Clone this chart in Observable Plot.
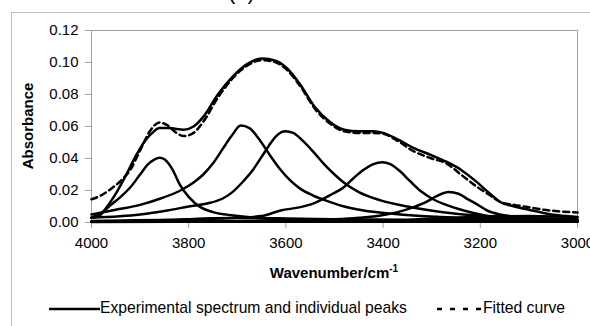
<!DOCTYPE html>
<html>
<head>
<meta charset="utf-8">
<script src="https://cdn.jsdelivr.net/npm/d3@7"></script>
<script src="https://cdn.jsdelivr.net/npm/@observablehq/plot@0.6"></script>
<style>
  html, body { margin:0; padding:0; background:#fff; }
  body { width:590px; height:326px; overflow:hidden; position:relative; font-family:"Liberation Sans", Arial, sans-serif; }
  #outer { position:absolute; left:11px; top:12px; width:700px; height:400px; border:1px solid #bdbdbd; box-sizing:border-box; }
  #title { position:absolute; left:228px; top:-21px; font-size:22px; color:#000; white-space:nowrap; }
  #chart { position:absolute; left:0; top:0; }
  #legend { position:absolute; left:0; top:298px; width:590px; height:20px; font-size:15.7px; color:#000; }
  #legend .item { position:absolute; top:0; display:flex; align-items:center; white-space:nowrap; }
</style>
</head>
<body>
<div id="outer"></div>
<div id="title">(a)</div>
<div id="chart"></div>
<div id="legend">
  <div class="item" style="left:49px;">
    <svg width="51" height="20"><line x1="0" x2="51" y1="11" y2="11" stroke="#000" stroke-width="2.5"/></svg>
    <span>Experimental spectrum and individual peaks</span>
  </div>
  <div class="item" style="left:437px;">
    <svg width="46" height="20"><line x1="0" x2="46" y1="11" y2="11" stroke="#000" stroke-width="2.5" stroke-dasharray="5,8"/></svg>
    <span>Fitted curve</span>
  </div>
</div>
<script>
// ---- Data ----
const xTicks = [4000, 3800, 3600, 3400, 3200, 3000];
const yTicks = [0, 0.02, 0.04, 0.06, 0.08, 0.10, 0.12];

const expW = [4000, 3985, 3970, 3950, 3930, 3910, 3890, 3875, 3860, 3840, 3810, 3790, 3770, 3740, 3710, 3680, 3650, 3620, 3600, 3570, 3540, 3510, 3480, 3450, 3420, 3400, 3370, 3340, 3300, 3270, 3240, 3210, 3180, 3160, 3130, 3100, 3070, 3040, 3000];
const expA = [0.003, 0.004, 0.009, 0.018, 0.029, 0.041, 0.051, 0.056, 0.059, 0.059, 0.058, 0.060, 0.066, 0.080, 0.091, 0.099, 0.1025, 0.101, 0.097, 0.086, 0.072, 0.063, 0.058, 0.057, 0.057, 0.056, 0.052, 0.047, 0.042, 0.038, 0.033, 0.026, 0.018, 0.013, 0.010, 0.008, 0.006, 0.0045, 0.0035];

const fitW = [4000, 3980, 3960, 3940, 3920, 3900, 3880, 3860, 3845, 3825, 3810, 3790, 3770, 3740, 3710, 3680, 3650, 3620, 3600, 3570, 3540, 3510, 3480, 3450, 3420, 3400, 3370, 3340, 3300, 3270, 3240, 3210, 3180, 3160, 3130, 3100, 3070, 3040, 3000];
const fitA = [0.0145, 0.017, 0.021, 0.026, 0.033, 0.045, 0.057, 0.0625, 0.061, 0.056, 0.054, 0.056, 0.063, 0.078, 0.090, 0.098, 0.1015, 0.100, 0.096, 0.085, 0.071, 0.062, 0.057, 0.056, 0.056, 0.0555, 0.051, 0.045, 0.040, 0.037, 0.030, 0.023, 0.017, 0.013, 0.011, 0.0095, 0.008, 0.007, 0.0062];

const peak1W = [4000, 3975, 3960, 3940, 3920, 3900, 3885, 3870, 3860, 3850, 3835, 3817, 3800, 3776, 3750, 3708, 3660, 3600, 3500, 3000];
const peak1A = [0.003, 0.007, 0.011, 0.016, 0.022, 0.030, 0.036, 0.0395, 0.0405, 0.0395, 0.034, 0.023, 0.016, 0.0096, 0.0065, 0.0044, 0.003, 0.0025, 0.002, 0.001];

const peak2W = [4000, 3950, 3900, 3858, 3817, 3790, 3770, 3750, 3730, 3712, 3693, 3675, 3655, 3635, 3611, 3590, 3570, 3545, 3520, 3480, 3440, 3380, 3337, 3250, 3150, 3000];
const peak2A = [0.005, 0.008, 0.011, 0.015, 0.020, 0.025, 0.030, 0.037, 0.046, 0.054, 0.0606, 0.059, 0.052, 0.043, 0.033, 0.026, 0.021, 0.017, 0.014, 0.010, 0.0075, 0.0055, 0.0044, 0.003, 0.002, 0.0015];

const peak3W = [4000, 3900, 3844, 3800, 3760, 3730, 3710, 3690, 3670, 3650, 3635, 3620, 3601, 3585, 3565, 3543, 3520, 3500, 3481, 3450, 3405, 3350, 3302, 3250, 3150, 3000];
const peak3A = [0.003, 0.005, 0.0075, 0.010, 0.012, 0.015, 0.019, 0.025, 0.032, 0.041, 0.048, 0.054, 0.057, 0.056, 0.051, 0.044, 0.036, 0.030, 0.025, 0.019, 0.0138, 0.010, 0.0075, 0.0055, 0.0035, 0.002];

const peak4W = [4000, 3800, 3700, 3650, 3611, 3570, 3543, 3510, 3481, 3460, 3440, 3420, 3402, 3385, 3365, 3345, 3320, 3300, 3270, 3234, 3200, 3165, 3100, 3000];
const peak4A = [0.001, 0.002, 0.003, 0.004, 0.0075, 0.0096, 0.012, 0.017, 0.022, 0.028, 0.033, 0.0365, 0.0377, 0.0365, 0.032, 0.026, 0.019, 0.015, 0.011, 0.0075, 0.005, 0.003, 0.002, 0.0015];

const peak5W = [4000, 3600, 3500, 3450, 3405, 3370, 3337, 3310, 3290, 3265, 3245, 3227, 3205, 3186, 3160, 3131, 3080, 3000];
const peak5A = [0.0005, 0.001, 0.002, 0.003, 0.0044, 0.0065, 0.0096, 0.013, 0.0165, 0.019, 0.018, 0.0148, 0.011, 0.0075, 0.005, 0.0037, 0.0025, 0.0015];

const peak6W = [4000, 3850, 3800, 3700, 3600, 3550, 3400, 3000];
const peak6A = [0.0005, 0.001, 0.002, 0.0028, 0.002, 0.001, 0.0005, 0.0005];

const peak7W = [4000, 3400, 3300, 3200, 3100, 3050, 3000];
const peak7A = [0.0003, 0.0008, 0.0025, 0.0035, 0.004, 0.0038, 0.0033];

const baseW = [4000, 3000];
const baseA = [0.0005, 0.0005];

// ---- Build tables ----
function series(name, W, A) { return W.map((w, i) => ({series: name, w, a: A[i]})); }
const peaks = [
  ...series("base", baseW, baseA),
  ...series("p6", peak6W, peak6A),
  ...series("p7", peak7W, peak7A),
  ...series("p1", peak1W, peak1A),
  ...series("p2", peak2W, peak2A),
  ...series("p3", peak3W, peak3A),
  ...series("p4", peak4W, peak4A),
  ...series("p5", peak5W, peak5A)
];
const experimental = series("exp", expW, expA);
const fitted = series("fit", fitW, fitA);

const grey = "#a0a0a0";
const chart = Plot.plot({
  width: 590,
  height: 290,
  marginTop: 30,
  marginLeft: 91,
  marginRight: 13,
  marginBottom: 68,
  style: {fontFamily: "'Liberation Sans', Arial, sans-serif", fontSize: "15px", background: "transparent", color: "#000"},
  x: {domain: [4000, 3000], label: null},
  y: {domain: [0, 0.12], label: null},
  marks: [
    Plot.frame({stroke: grey, strokeWidth: 1}),
    Plot.axisX({ticks: xTicks, tickFormat: d => String(d), tickSize: 6, tickPadding: 9, stroke: grey, fill: "#000", fontSize: 15, label: null}),
    Plot.axisY({ticks: yTicks, tickFormat: d3.format(".2f"), tickSize: 6, tickPadding: 7, stroke: grey, fill: "#000", fontSize: 15, label: null}),
    Plot.line(peaks, {x: "w", y: "a", z: "series", stroke: "#000", strokeWidth: 2.5, curve: "monotone-x"}),
    Plot.line(experimental, {x: "w", y: "a", stroke: "#000", strokeWidth: 2.5, curve: "monotone-x"}),
    Plot.line(fitted, {x: "w", y: "a", stroke: "#000", strokeWidth: 2.5, strokeDasharray: "6,4", curve: "monotone-x"})
  ]
});
document.getElementById("chart").appendChild(chart);

// Axis titles
const svg = d3.select(chart);
const xt = svg.append("text")
  .attr("x", 334).attr("y", 278)
  .attr("text-anchor", "middle")
  .attr("font-weight", "bold")
  .attr("font-size", 15)
  .attr("fill", "#000");
xt.append("tspan").text("Wavenumber/cm");
xt.append("tspan").attr("font-size", 10).attr("dy", -6).text("-1");

svg.append("text")
  .attr("transform", "translate(33,126) rotate(-90)")
  .attr("text-anchor", "middle")
  .attr("font-weight", "bold")
  .attr("font-size", 15)
  .attr("fill", "#000")
  .text("Absorbance");
</script>
</body>
</html>
